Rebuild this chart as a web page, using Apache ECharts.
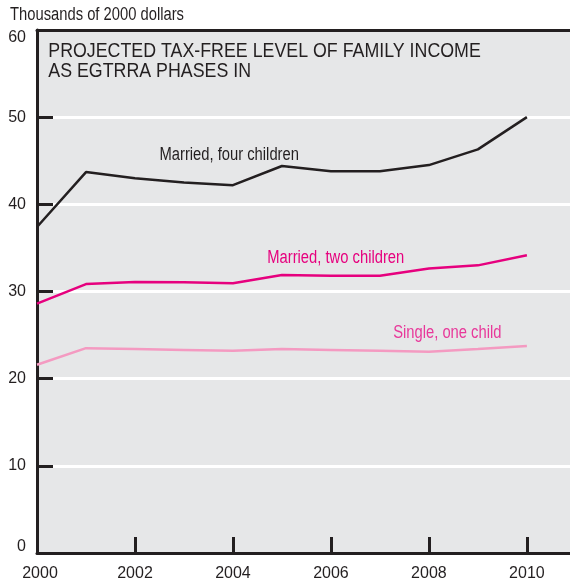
<!DOCTYPE html>
<html>
<head>
<meta charset="utf-8">
<script src="https://cdn.jsdelivr.net/npm/echarts@6/dist/echarts.min.js"></script>
<style>
  html, body { margin: 0; padding: 0; background: #ffffff; }
  #chart { width: 570px; height: 584px; }
</style>
</head>
<body>
<div id="chart"></div>
<script>
// Projected tax-free level of family income, thousands of 2000 dollars
const years = [2000, 2001, 2002, 2003, 2004, 2005, 2006, 2007, 2008, 2009, 2010];
const marriedFour = [37.4, 43.7, 43.0, 42.5, 42.2, 44.4, 43.8, 43.8, 44.5, 46.3, 50.0];
const marriedTwo  = [28.6, 30.85, 31.1, 31.05, 30.95, 31.9, 31.8, 31.8, 32.65, 33.0, 34.15];
const singleOne   = [21.6, 23.5, 23.4, 23.3, 23.2, 23.4, 23.3, 23.2, 23.1, 23.4, 23.75];
const xTickYears = [2000, 2002, 2004, 2006, 2008, 2010];
const yTicks = [0, 10, 20, 30, 40, 50, 60];

const FONT = '"Liberation Sans", Arial, sans-serif';
const NARROW = 0.82;   // horizontal squeeze for the condensed lettering
const INK = '#231f20';
const BLACK_LINE = '#231f20';
const MAGENTA = '#e6007e';
const PINK = '#f49ac1';

const pairs = (vals) => years.map((y, i) => [y, vals[i]]);

const chart = echarts.init(document.getElementById('chart'), null, { renderer: 'canvas' });

chart.setOption({
  animation: false,
  backgroundColor: '#ffffff',
  grid: {
    left: 37, right: 0, top: 30, bottom: 31,
    show: true, backgroundColor: '#e6e7e8', borderWidth: 0
  },
  xAxis: [{
    type: 'value', min: 2000, max: 2010.88, interval: 2,
    axisLine: { show: true, onZero: false, lineStyle: { color: INK, width: 3 } },
    axisTick: { show: true, inside: true, length: 16, customValues: xTickYears,
      lineStyle: { color: INK, width: 3 } },
    axisLabel: { show: true, customValues: xTickYears, margin: 13,
      fontFamily: FONT, fontSize: 16, color: INK,
      formatter: (v) => v === 2000 ? '{first|' + v + '}' : String(v),
      rich: { first: { fontFamily: FONT, fontSize: 16, color: INK, padding: [0, 0, 0, 6] } } },
    splitLine: { show: false }
  }, {
    type: 'value', position: 'top', min: 2000, max: 2010.88,
    axisLine: { show: true, onZero: false, lineStyle: { color: INK, width: 3 } },
    axisTick: { show: false }, axisLabel: { show: false }, splitLine: { show: false }
  }],
  yAxis: {
    type: 'value', min: 0, max: 60, interval: 10,
    axisLine: { show: true, onZero: false, lineStyle: { color: INK, width: 3 } },
    axisTick: { show: true, inside: true, length: 16, lineStyle: { color: INK, width: 3 } },
    axisLabel: { margin: 11, fontFamily: FONT, fontSize: 16, color: INK,
      formatter: (v) => {
        if (!yTicks.includes(v)) return '';
        if (v === 60) return '{top|60}';
        if (v === 0) return '{bot|0}';
        return String(v);
      },
      rich: {
        top: { fontFamily: FONT, fontSize: 16, color: INK, padding: [16, 0, 0, 0] },
        bot: { fontFamily: FONT, fontSize: 16, color: INK, padding: [0, 0, 12, 0] }
      } },
    splitLine: { show: true, lineStyle: { color: '#ffffff', width: 3 } }
  },
  series: [
    { name: 'Married, four children', type: 'line', data: pairs(marriedFour),
      symbol: 'none', lineStyle: { color: BLACK_LINE, width: 2.5 }, z: 3 },
    { name: 'Married, two children', type: 'line', data: pairs(marriedTwo),
      symbol: 'none', lineStyle: { color: MAGENTA, width: 2.5 }, z: 3 },
    { name: 'Single, one child', type: 'line', data: pairs(singleOne),
      symbol: 'none', lineStyle: { color: PINK, width: 2.5 }, z: 3 }
  ]
});

// Title, unit caption and series annotations; annotations placed in data space
const at = (x, y) => chart.convertToPixel({ gridIndex: 0 }, [x, y]);
const notes = [
  { text: 'Married, four children', pos: [2002.5, 45.6], color: INK },
  { text: 'Married, two children', pos: [2004.7, 33.85], color: MAGENTA },
  { text: 'Single, one child', pos: [2007.27, 25.2], color: '#e8389a' }
];
const titleAt = at(2000.23, 58.1);
const narrowText = (x, y, text, size, color, extra, squeeze) => ({
  type: 'text', x: x, y: y, scaleX: squeeze || NARROW, z: 10,
  style: Object.assign({ text: text, font: size + 'px ' + FONT, fill: color }, extra || {})
});
chart.setOption({
  graphic: [
    narrowText(10, 6, 'Thousands of 2000 dollars', 18, INK, { verticalAlign: 'top' }),
    narrowText(titleAt[0], titleAt[1] - 5,
      'PROJECTED TAX-FREE LEVEL OF FAMILY INCOME\nAS EGTRRA PHASES IN', 20, INK,
      { verticalAlign: 'top', lineHeight: 20 }, 0.89)
  ].concat(notes.map((n) => {
    const p = at(n.pos[0], n.pos[1]);
    return narrowText(p[0], p[1], n.text, 18, n.color, { verticalAlign: 'middle' });
  }))
});
</script>
</body>
</html>
